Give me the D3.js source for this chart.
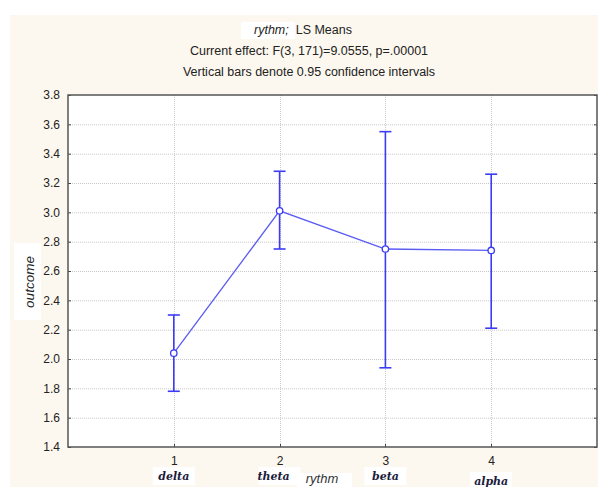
<!DOCTYPE html>
<html>
<head>
<meta charset="utf-8" />
<title>LS Means</title>
<style>
  body { margin: 0; background: #fff; }
  svg { display: block; }
</style>
</head>
<body>
<script src="https://d3js.org/d3.v7.min.js"></script>
<script>
    // data
    var levels = [1, 2, 3, 4];
    var names = ["delta", "theta", "beta", "alpha"];
    var means = [2.04, 3.01, 2.75, 2.74];
    var lower = [1.78, 2.75, 1.94, 2.21];
    var upper = [2.30, 3.28, 3.55, 3.26];
    var yTicks = [1.4, 1.6, 1.8, 2.0, 2.2, 2.4, 2.6, 2.8, 3.0, 3.2, 3.4, 3.6, 3.8];
    var titleLines = ["Current effect: F(3, 171)=9.0555, p=.00001",
                      "Vertical bars denote 0.95 confidence intervals"];

    var width = 598, height = 487;
    var plot = {left: 68, right: 597, top: 95, bottom: 447};
    var blue = "#3c3cf5";

    var svg = d3.select("body").append("svg")
        .attr("width", width)
        .attr("height", height)
        .style("font-family", "Liberation Sans, Arial, sans-serif");

    // cream panel
    svg.append("rect")
        .attr("x", 10).attr("y", 15)
        .attr("width", width - 10).attr("height", height - 15)
        .attr("fill", "#fdf8ef");

    var x = d3.scaleLinear().domain([0, 5]).range([plot.left, plot.right]);
    var y = d3.scaleLinear().domain([1.4, 3.8]).range([plot.bottom, plot.top]);

    svg.append("rect")
        .attr("x", plot.left).attr("y", plot.top)
        .attr("width", plot.right - plot.left).attr("height", plot.bottom - plot.top)
        .attr("fill", "#fff");

    // grid
    var grid = svg.append("g")
        .attr("stroke", "#c8c8c8")
        .attr("stroke-width", 1)
        .attr("stroke-dasharray", "1,1");
    grid.selectAll(".h").data(yTicks.slice(1, -1)).enter().append("line")
        .attr("x1", plot.left).attr("x2", plot.right)
        .attr("y1", d => y(d) + 0.5).attr("y2", d => y(d) + 0.5);
    grid.selectAll(".v").data(levels).enter().append("line")
        .attr("x1", d => Math.round(x(d)) + 0.5).attr("x2", d => Math.round(x(d)) + 0.5)
        .attr("y1", plot.top).attr("y2", plot.bottom);

    // axes
    var yAxis = svg.append("g")
        .attr("transform", "translate(" + plot.left + ",0)")
        .call(d3.axisLeft(y).tickValues(yTicks).tickFormat(d3.format(".1f")).tickSize(0).tickPadding(8));
    yAxis.select(".domain").remove();
    yAxis.selectAll("text").attr("font-size", 12).attr("fill", "#222")
        .attr("font-family", "Liberation Sans, Arial, sans-serif");

    var xAxis = svg.append("g")
        .attr("transform", "translate(0," + plot.bottom + ")")
        .call(d3.axisBottom(x).tickValues(levels).tickFormat(d3.format("d")).tickSize(0).tickPadding(9));
    xAxis.select(".domain").remove();
    xAxis.selectAll("text").attr("font-size", 12).attr("fill", "#222")
        .attr("font-family", "Liberation Sans, Arial, sans-serif");

    // small inner ticks on the frame
    var tk = svg.append("g").attr("stroke", "#444").attr("stroke-width", 1);
    tk.selectAll(".yl").data(yTicks).enter().append("line")
        .attr("x1", plot.left).attr("x2", plot.left + 3)
        .attr("y1", d => y(d) + 0.5).attr("y2", d => y(d) + 0.5);
    tk.selectAll(".yr").data(yTicks).enter().append("line")
        .attr("x1", plot.right - 3).attr("x2", plot.right)
        .attr("y1", d => y(d) + 0.5).attr("y2", d => y(d) + 0.5);
    tk.selectAll(".xb").data(levels).enter().append("line")
        .attr("x1", d => Math.round(x(d)) + 0.5).attr("x2", d => Math.round(x(d)) + 0.5)
        .attr("y1", plot.bottom - 3).attr("y2", plot.bottom);

    // frame
    svg.append("rect")
        .attr("x", plot.left).attr("y", plot.top)
        .attr("width", plot.right - plot.left).attr("height", plot.bottom - plot.top)
        .attr("fill", "none").attr("stroke", "#555").attr("stroke-width", 1.5);

    var data = levels.map((d, i) => ({x: d, m: means[i], lo: lower[i], hi: upper[i]}));

    // mean line
    svg.append("path")
        .datum(data)
        .attr("fill", "none")
        .attr("stroke", "#5a5af5")
        .attr("stroke-width", 1.3)
        .attr("d", d3.line().x(d => x(d.x)).y(d => y(d.m)));

    // error bars
    var bars = svg.append("g").attr("stroke", blue).attr("stroke-width", 1.6);
    bars.selectAll(".bar").data(data).enter().append("line")
        .attr("x1", d => x(d.x)).attr("x2", d => x(d.x))
        .attr("y1", d => y(d.lo)).attr("y2", d => y(d.hi));
    bars.selectAll(".capHi").data(data).enter().append("line")
        .attr("x1", d => x(d.x) - 6).attr("x2", d => x(d.x) + 6)
        .attr("y1", d => y(d.hi)).attr("y2", d => y(d.hi));
    bars.selectAll(".capLo").data(data).enter().append("line")
        .attr("x1", d => x(d.x) - 6).attr("x2", d => x(d.x) + 6)
        .attr("y1", d => y(d.lo)).attr("y2", d => y(d.lo));

    svg.append("g").selectAll("circle").data(data).enter().append("circle")
        .attr("cx", d => x(d.x)).attr("cy", d => y(d.m)).attr("r", 3.2)
        .attr("fill", "#fff").attr("stroke", blue).attr("stroke-width", 1.3);

    // title
    svg.append("rect").attr("x", 241).attr("y", 22).attr("width", 54).attr("height", 17).attr("fill", "#fff");
    var t1 = svg.append("text").attr("x", 303).attr("y", 34).attr("text-anchor", "middle")
        .attr("font-size", 12.5).attr("fill", "#222");
    t1.append("tspan").attr("font-style", "italic").text("rythm;");
    t1.append("tspan").text("\u00a0 LS Means");
    svg.selectAll(".sub").data(titleLines).enter().append("text")
        .attr("x", 309).attr("y", (d, i) => 55 + i * 21)
        .attr("text-anchor", "middle").attr("font-size", 12.5).attr("fill", "#222")
        .text(d => d);

    // y label
    svg.append("rect").attr("x", 14).attr("y", 243).attr("width", 27).attr("height", 77).attr("fill", "#fff");
    svg.append("text")
        .attr("transform", "translate(34," + 282 + ") rotate(-90)")
        .attr("text-anchor", "middle").attr("font-size", 13.5).attr("font-style", "italic")
        .attr("fill", "#222").text("outcome");

    // category names under the ticks
    var nameY = [476, 476, 476, 481];
    var cats = svg.append("g");
    cats.selectAll("rect").data(names).enter().append("rect")
        .attr("x", (d, i) => x(levels[i]) - 21).attr("y", (d, i) => nameY[i] - 9)
        .attr("width", 42).attr("height", 18).attr("fill", "#fff");
    cats.selectAll("text").data(names).enter().append("text")
        .attr("x", (d, i) => x(levels[i]) - (i === 1 ? 6 : 0))
        .attr("y", (d, i) => nameY[i] + 4)
        .attr("text-anchor", "middle")
        .attr("font-family", "DejaVu Serif, Liberation Serif, serif")
        .attr("font-weight", "bold").attr("font-style", "italic")
        .attr("font-size", 11).attr("fill", "#1c1c3c")
        .text(d => d);

    // x label
    svg.append("rect").attr("x", 297).attr("y", 473).attr("width", 55).attr("height", 14).attr("fill", "#fff");
    svg.append("text").attr("x", 322).attr("y", 483).attr("text-anchor", "middle")
        .attr("font-size", 13).attr("font-style", "italic").attr("fill", "#333").text("rythm");
</script>
</body>
</html>
